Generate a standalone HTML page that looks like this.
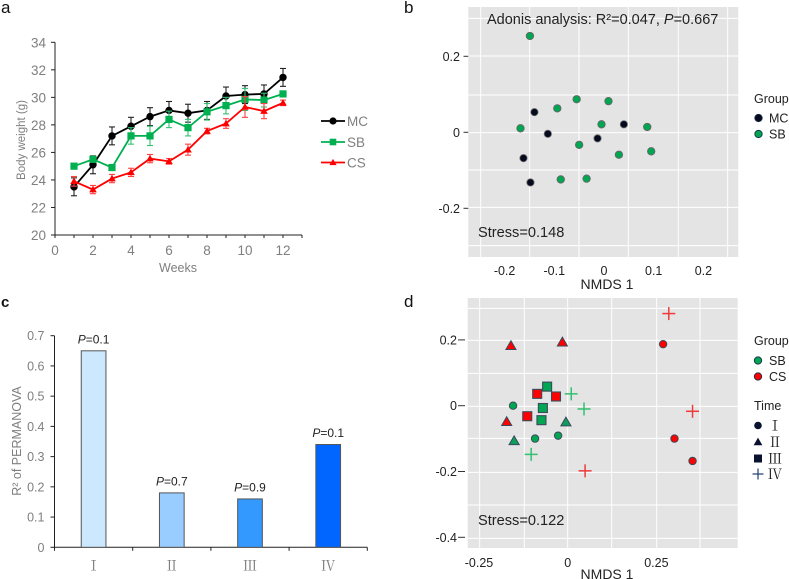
<!DOCTYPE html>
<html>
<head>
<meta charset="utf-8">
<style>
html,body{margin:0;padding:0;background:#fff;width:789px;height:579px;overflow:hidden}
svg{display:block;font-family:"Liberation Sans","Noto Sans CJK SC",sans-serif;filter:blur(0.3px)}
.roman{font-family:"Liberation Serif","Noto Serif CJK SC",serif}
</style>
</head>
<body>
<svg id="fig" xmlns="http://www.w3.org/2000/svg" width="789" height="579" viewBox="0 0 789 579">
<text x="1" y="13" font-size="17" fill="#111">a</text>
<text x="404" y="13" font-size="17" fill="#111">b</text>
<text x="1" y="307" font-size="15" font-weight="bold" fill="#111">c</text>
<text x="404" y="307" font-size="17" fill="#111">d</text>
<g id="pa"></g>
<g id="pb"></g>
<g id="pc"></g>
<g id="pd"></g>
</svg>
<script>
// Panel a data
const weeks = [1,2,3,4,5,6,7,8,9,10,11,12];
const mcWeight = [23.5,25.1,27.2,27.9,28.6,29.05,28.85,29.05,30.1,30.2,30.25,31.45];
const mcError = [0.65,0.65,0.65,0.65,0.65,0.65,0.65,0.65,0.65,0.65,0.65,0.65];
const sbWeight = [25,25.5,24.9,27.2,27.2,28.4,27.8,28.95,29.4,29.85,29.8,30.25];
const sbError = [0.2,0.2,0.2,0.6,0.7,0.6,0.6,0.6,0.6,0.8,0.5,0.2];
const csWeight = [23.9,23.3,24.1,24.55,25.55,25.35,26.2,27.55,28.1,29.3,29,29.6];
const csError = [0.35,0.3,0.3,0.3,0.3,0.2,0.4,0.2,0.35,0.75,0.55,0.2];
const aYTicks = [20,22,24,26,28,30,32,34];
const aXTicks = [0,2,4,6,8,10,12];
// Panel b data
const bMcX = [-0.140,-0.113,0.040,-0.013,-0.162,-0.148];
const bMcY = [0.053,-0.004,0.021,-0.016,-0.068,-0.132];
const bSbX = [-0.149,-0.055,0.009,-0.094,-0.168,-0.005,0.087,-0.050,0.030,0.095,-0.087,-0.035];
const bSbY = [0.2535,0.087,0.082,0.063,0.0105,0.021,0.014,-0.033,-0.059,-0.050,-0.124,-0.122];
const bXTicks = [-0.2,-0.1,0,0.1,0.2];
const bYTicks = [0.2,0,-0.2];
// Panel c data
const cCategories = ["Ⅰ","Ⅱ","Ⅲ","Ⅳ"];
const cValues = [0.65,0.18,0.16,0.34];
const cPLabels = ["0.1","0.7","0.9","0.1"];
const cYTicks = [0,0.1,0.2,0.3,0.4,0.5,0.6,0.7];
// Panel d data
const dSbCircleX = [-0.154,-0.092,-0.027];
const dSbCircleY = [0,-0.100,-0.091];
const dSbTriangleX = [-0.151,-0.005];
const dSbTriangleY = [-0.107,-0.050];
const dSbSquareX = [-0.058,-0.070,-0.074];
const dSbSquareY = [0.058,-0.007,-0.044];
const dSbPlusX = [0.010,0.046,-0.103];
const dSbPlusY = [0.036,-0.010,-0.148];
const dCsCircleX = [0.269,0.301,0.352];
const dCsCircleY = [0.187,-0.100,-0.168];
const dCsTriangleX = [-0.160,-0.015,-0.172];
const dCsTriangleY = [0.182,0.193,-0.049];
const dCsSquareX = [-0.086,-0.033,-0.114];
const dCsSquareY = [0.036,0.028,-0.032];
const dCsPlusX = [0.285,0.352,0.049];
const dCsPlusY = [0.280,-0.017,-0.198];
const dXTicks = [-0.25,0,0.25];
const dYTicks = [0.2,0,-0.2,-0.4];

const NS = "http://www.w3.org/2000/svg";
function mk(parent, tag, attrs, txt) {
  const el = document.createElementNS(NS, tag);
  for (const k in attrs) el.setAttribute(k, attrs[k]);
  if (txt !== undefined) el.textContent = txt;
  parent.appendChild(el);
  return el;
}
function line(parent, x1, y1, x2, y2, stroke, w) {
  return mk(parent, "line", {x1, y1, x2, y2, stroke, "stroke-width": w});
}
const GREEN = "#00b050", RED = "#ff0000", GREY = "#7f7f7f";

// ---------- Panel a ----------
const pa = document.getElementById("pa");
const ax = v => 55 + v * 19;
const ay = v => 235 - (v - 20) * (192.7 / 14);
const aAxisY = line(pa, 55, 42.3, 55, 235, "#222", 1);


const aAxisX = line(pa, 55, 235, 302, 235, "#222", 1);


aYTicks.forEach(t => {
  line(pa, 51, ay(t), 55, ay(t), "#222", 1);
  const lab = mk(pa, "text", {x: 46, y: ay(t) + 5, "font-size": 13.5, fill: GREY, "text-anchor": "end"}, t);
  
  
});
for (let i = 0; i <= 13; i++) line(pa, ax(i), 235, ax(i), 238, "#222", 1);
aXTicks.forEach(t => {
  const lab = mk(pa, "text", {x: ax(t), y: 255, "font-size": 13.5, fill: GREY, "text-anchor": "middle"}, t);
  
  
});
const aXTitle = mk(pa, "text", {x: 178, y: 272, "font-size": 12.5, fill: GREY, "text-anchor": "middle"}, "Weeks");


const aYTitle = mk(pa, "text", {x: 0, y: 0, "font-size": 11.5, fill: GREY, "text-anchor": "middle", transform: "translate(25,140) rotate(-90)"}, "Body weight (g)");



function marker(parent, kind, x, y, r, fill, stroke, sw) {
  if (kind === "circle") return mk(parent, "circle", {cx: x, cy: y, r, fill, stroke: stroke || "none", "stroke-width": sw || 0});
  if (kind === "square") return mk(parent, "rect", {x: x - r, y: y - r, width: 2 * r, height: 2 * r, fill, stroke: stroke || "none", "stroke-width": sw || 0});
  if (kind === "triangle") return mk(parent, "polygon", {points: `${x},${y - r * 1.15} ${x + r * 1.15},${y + r * 0.85} ${x - r * 1.15},${y + r * 0.85}`, fill, stroke: stroke || "none", "stroke-width": sw || 0});
  const g = mk(parent, "g", {});
  line(g, x - r, y, x + r, y, fill, sw || 1.2);
  line(g, x, y - r, x, y + r, fill, sw || 1.2);
  return g;
}
function series(vals, errs, color, kind, r, name, errColor) {
  const g = mk(pa, "g", {});
  
  
  weeks.forEach((w, i) => {
    const x = ax(w), hi = ay(vals[i] + errs[i]), lo = ay(vals[i] - errs[i]);
    line(g, x, hi, x, lo, errColor, 1.1);
    line(g, x - 3, hi, x + 3, hi, errColor, 1.1);
    line(g, x - 3, lo, x + 3, lo, errColor, 1.1);
  });
  mk(g, "polyline", {points: weeks.map((w, i) => ax(w) + "," + ay(vals[i])).join(" "), fill: "none", stroke: color, "stroke-width": 1.8});
  weeks.forEach((w, i) => {
    const m = marker(g, kind, ax(w), ay(vals[i]), r, color);
    
    
  });
}
series(mcWeight, mcError, "#000", "circle", 3.7, "series-mc", "#222");
series(sbWeight, sbError, GREEN, "square", 3.6, "series-sb", "#33c070");
series(csWeight, csError, RED, "triangle", 3.3, "series-cs", "#ff4040");
[["MC", "#000", "circle", 121, 3.6], ["SB", GREEN, "square", 142, 3.3], ["CS", RED, "triangle", 162.5, 3.1]].forEach(e => {
  const g = mk(pa, "g", {});
  
  
  line(g, 321, e[3], 345, e[3], e[1], 1.8);
  marker(g, e[2], 333, e[3], e[4], e[1]);
  mk(g, "text", {x: 347, y: e[3] + 5, "font-size": 13.5, fill: GREY}, e[0]);
});

// ---------- NMDS shared ----------
function panelBg(p, x, y, w, h, vs, hs) {
  const bg = mk(p, "rect", {x, y, width: w, height: h, fill: "#e5e4e5"});
  
  
  vs.forEach(v => line(p, v, y, v, y + h, "#fff", 1));
  hs.forEach(v => line(p, x, v, x + w, v, "#fff", 1));
}

// ---------- Panel b ----------
const pb = document.getElementById("pb");
const bx = v => 604 + v * 497;
const by = v => 132.3 - v * 380;
panelBg(pb, 468.3, 7, 270, 250,
  [257,404,552,700,850,998].map(z => 395 + z / 3),
  [55,168,285,398,510,622,737].map(z => z / 3));
bXTicks.forEach(t => {
  const lab = mk(pb, "text", {x: bx(t), y: 275, "font-size": 12.5, fill: "#222", "text-anchor": "middle"}, t);
  
  
});
bYTicks.forEach(t => {
  line(pb, 463.5, by(t), 468.3, by(t), "#333", 1);
  const lab = mk(pb, "text", {x: 460, y: by(t) + 4.5, "font-size": 12.5, fill: "#222", "text-anchor": "end"}, t);
  
  
});
const bTitle = mk(pb, "text", {x: 607, y: 289, "font-size": 14, fill: "#222", "text-anchor": "middle"}, "NMDS 1");


const bAd = mk(pb, "text", {x: 487, y: 24, "font-size": 14.5, fill: "#222"});


mk(bAd, "tspan", {}, "Adonis analysis: R²=0.047, ");
mk(bAd, "tspan", {"font-style": "italic"}, "P");
mk(bAd, "tspan", {}, "=0.667");
const bStress = mk(pb, "text", {x: 478, y: 237, "font-size": 14.6, fill: "#222"}, "Stress=0.148");


const NAVY = "#3a4a5c";
bMcX.forEach((x, i) => {
  const c = mk(pb, "circle", {cx: bx(x), cy: by(bMcY[i]), r: 3.7, fill: "#050a1e", stroke: "#777", "stroke-width": 0.8});
  
  
});
bSbX.forEach((x, i) => {
  const c = mk(pb, "circle", {cx: bx(x), cy: by(bSbY[i]), r: 3.7, fill: "#00a651", stroke: "#666", "stroke-width": 0.9});
  
  
});
const bLegTitle = mk(pb, "text", {x: 754, y: 103, "font-size": 12.5, fill: "#222"}, "Group");


[["MC", "#050a1e", 118], ["SB", "#00a651", 134]].forEach(e => {
  const g = mk(pb, "g", {});
  
  
  mk(g, "circle", {cx: 758.5, cy: e[2], r: 3.7, fill: e[1], stroke: "#1a2a4a", "stroke-width": 0.9});
  mk(g, "text", {x: 769, y: e[2] + 4.5, "font-size": 12.5, fill: "#222"}, e[0]);
});

// ---------- Panel c ----------
const pc = document.getElementById("pc");
const cBase = 547.3, cTop = 335.7, cLeft = 54.5, cBand = 78.2, cBarW = 24.7;
const cy = v => cBase - v * (cBase - cTop) / 0.7;
const cx = i => cLeft + cBand * (i + 0.5);
const cFills = ["#cce8ff", "#99ccff", "#3399ff", "#0066ff"];
const cAxisY = line(pc, cLeft, cTop, cLeft, cBase, "#222", 1);


const cAxisX = line(pc, cLeft, cBase, cLeft + cBand * 4, cBase, "#222", 1);


cYTicks.forEach(t => {
  line(pc, cLeft - 4, cy(t), cLeft, cy(t), "#222", 1);
  const lab = mk(pc, "text", {x: 44.5, y: cy(t) + 4.5, "font-size": 12.5, fill: GREY, "text-anchor": "end"}, t);
  
  
});
for (let i = 0; i <= 4; i++) line(pc, cLeft + cBand * i, cBase, cLeft + cBand * i, cBase + 3.5, "#222", 1);
cCategories.forEach((c, i) => {
  const bar = mk(pc, "rect", {x: cx(i) - cBarW / 2, y: cy(cValues[i]), width: cBarW, height: cBase - cy(cValues[i]), fill: cFills[i], stroke: "#555", "stroke-width": 1});
  
  
  const lab = mk(pc, "text", {x: cx(i), y: 570.5, "font-size": 14, fill: GREY, "text-anchor": "middle", "class": "roman"}, c);
  
  
  const p = mk(pc, "text", {x: cx(i), y: cy(cValues[i]) - 7.5, "font-size": 12, fill: "#222", "text-anchor": "middle"});
  
  
  mk(p, "tspan", {"font-style": "italic"}, "P");
  mk(p, "tspan", {}, "=" + cPLabels[i]);
});
const cTitle = mk(pc, "text", {x: 0, y: 0, "font-size": 12.5, fill: GREY, "text-anchor": "middle", transform: "translate(21,441) rotate(-90)"}, "R² of PERMANOVA");



// ---------- Panel d ----------
const pd = document.getElementById("pd");
const dx = v => 567.7 + v * 354.7;
const dy = v => 405.7 - v * 329;
panelBg(pd, 467.7, 298, 270, 250,
  [254,388,518,650,785,915].map(z => 395 + z / 3),
  [55,151,250,349,445,547,645,745].map(z => 290 + z / 3));
dXTicks.forEach(t => {
  const lab = mk(pd, "text", {x: dx(t), y: 567, "font-size": 12.5, fill: "#222", "text-anchor": "middle"}, t);
  
  
});
dYTicks.forEach(t => {
  line(pd, 458, dy(t), 465, dy(t), "#333", 1);
  const lab = mk(pd, "text", {x: 457, y: dy(t) + 4.5, "font-size": 12.5, fill: "#222", "text-anchor": "end"}, t);
  
  
});
const dTitle = mk(pd, "text", {x: 607, y: 579, "font-size": 14, fill: "#222", "text-anchor": "middle"}, "NMDS 1");


const dStress = mk(pd, "text", {x: 478, y: 525, "font-size": 14.6, fill: "#222"}, "Stress=0.122");


const SBC = "#00a651", CSC = "#ff0000";
function scatter(xs, ys, kind, color, name) {
  xs.forEach((x, i) => {
    let m;
    if (kind === "plus") m = marker(pd, "plus", dx(x), dy(ys[i]), 6.5, color === SBC ? "#33c070" : "#ee3a3a", null, 1.5);
    else if (kind === "circle") m = marker(pd, "circle", dx(x), dy(ys[i]), 3.7, color, NAVY, 1);
    else if (kind === "square") m = marker(pd, "square", dx(x), dy(ys[i]), 4.5, color, NAVY, 1.1);
    else m = marker(pd, "triangle", dx(x), dy(ys[i]), 4.4, color, NAVY, 1);
    
    
  });
}
scatter(dSbCircleX, dSbCircleY, "circle", SBC, "sb-time-1-point");
scatter(dCsCircleX, dCsCircleY, "circle", CSC, "cs-time-1-point");
scatter(dSbTriangleX, dSbTriangleY, "triangle", "#0e9e5a", "sb-time-2-point");
scatter(dCsTriangleX, dCsTriangleY, "triangle", CSC, "cs-time-2-point");
scatter(dSbSquareX, dSbSquareY, "square", SBC, "sb-time-3-point");
scatter(dCsSquareX, dCsSquareY, "square", CSC, "cs-time-3-point");
scatter(dSbPlusX, dSbPlusY, "plus", SBC, "sb-time-4-point");
scatter(dCsPlusX, dCsPlusY, "plus", CSC, "cs-time-4-point");
const dLeg1 = mk(pd, "text", {x: 754, y: 345, "font-size": 12.5, fill: "#222"}, "Group");


[["SB", SBC, 360.5], ["CS", CSC, 376.5]].forEach(e => {
  const g = mk(pd, "g", {});
  
  
  mk(g, "circle", {cx: 758, cy: e[2], r: 3.7, fill: e[1], stroke: "#1a2a4a", "stroke-width": 0.9});
  mk(g, "text", {x: 769, y: e[2] + 4.5, "font-size": 12.5, fill: "#222"}, e[0]);
});
const dLeg2 = mk(pd, "text", {x: 754, y: 410, "font-size": 12.5, fill: "#222"}, "Time");


[["Ⅰ", "circle", 425.5, 3.8], ["Ⅱ", "triangle", 442, 3.8], ["Ⅲ", "square", 458.5, 4], ["Ⅳ", "plus", 474, 5.5]].forEach((e, i) => {
  const g = mk(pd, "g", {});
  
  
  marker(g, e[1], 758, e[2], e[3], e[1] === "plus" ? "#2f4a78" : "#0a1230", null, 1.3);
  mk(g, "text", {x: 775, y: e[2] + 5, "font-size": 14, fill: "#222", "text-anchor": "middle", "class": "roman"}, e[0]);
});
</script>
</body>
</html>
